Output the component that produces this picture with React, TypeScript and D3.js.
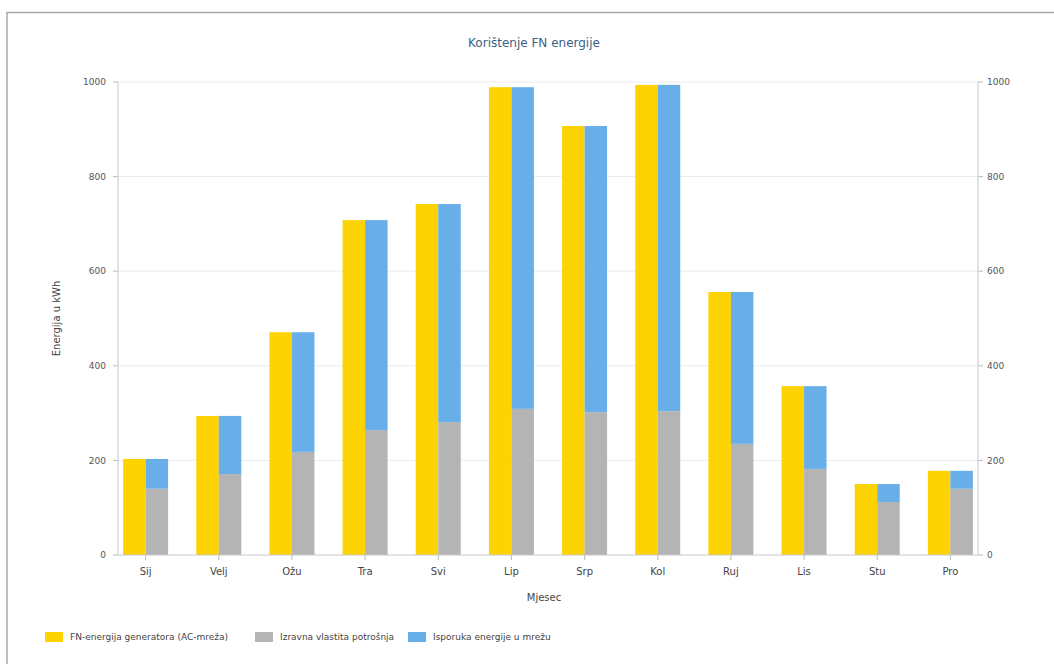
import React from "react";
import * as d3 from "d3";

const months = ["Sij", "Velj", "Ožu", "Tra", "Svi", "Lip", "Srp", "Kol", "Ruj", "Lis", "Stu", "Pro"];
// FN-energija generatora (AC-mreža), kWh
const generated = [203, 294, 471, 708, 742, 989, 907, 994, 556, 357, 150, 178];
// Izravna vlastita potrošnja, kWh
const selfUse = [140, 171, 218, 264, 281, 309, 302, 304, 235, 182, 112, 140];
// Isporuka energije u mrežu, kWh
const feedIn = [63, 123, 253, 444, 461, 680, 605, 690, 321, 175, 38, 38];
const yTicks = [0, 200, 400, 600, 800, 1000];

const legendItems = [
  { label: "FN-energija generatora (AC-mreža)", color: "#fdd304" },
  { label: "Izravna vlastita potrošnja", color: "#b4b4b4" },
  { label: "Isporuka energije u mrežu", color: "#68afe9" },
];

const W = 1054;
const H = 664;
const margin = { top: 82, right: 76, bottom: 109, left: 118 };

export default function App() {
  const innerW = W - margin.left - margin.right;
  const innerH = H - margin.top - margin.bottom;

  const x = d3.scaleBand<string>().domain(months).range([0, innerW]).paddingInner(0.385).paddingOuter(0.07);
  const sub = d3.scaleBand<string>().domain(["gen", "stack"]).range([0, x.bandwidth()]);
  const y = d3.scaleLinear().domain([0, 1000]).range([innerH, 0]);

  const font = "Tahoma, 'DejaVu Sans', Verdana, sans-serif";

  return (
    <svg width={W} height={H} style={{ position: "absolute", left: 0, top: 0, background: "#fff" }} fontFamily={font}>
      <rect x={7} y={12.5} width={W} height={H} fill="none" stroke="#a8a8a8" strokeWidth={1.5} />
      <text x={534} y={47} textAnchor="middle" fontSize={12} fill="#3d5f86">
        Korištenje FN energije
      </text>
      <g transform={`translate(${margin.left},${margin.top})`}>
        {yTicks.map(t => (
          <g key={t}>
            {t > 0 && <line x1={0} x2={innerW} y1={y(t)} y2={y(t)} stroke="#ececec" />}
            <line x1={-5} x2={0} y1={y(t)} y2={y(t)} stroke="#bbb" />
            <line x1={innerW} x2={innerW + 5} y1={y(t)} y2={y(t)} stroke="#bbb" />
            <text x={-12} y={y(t)} dy="0.35em" textAnchor="end" fontSize={9} fill="#555">
              {t}
            </text>
            <text x={innerW + 9} y={y(t)} dy="0.35em" textAnchor="start" fontSize={9} fill="#555">
              {t}
            </text>
          </g>
        ))}
        {months.map((m, i) => {
          const x0 = x(m)!;
          return (
            <g key={m}>
              <rect x={x0 + sub("gen")!} y={y(generated[i])} width={sub.bandwidth()} height={innerH - y(generated[i])} fill="#fdd304" />
              <rect x={x0 + sub("stack")!} y={y(selfUse[i])} width={sub.bandwidth()} height={innerH - y(selfUse[i])} fill="#b4b4b4" />
              <rect
                x={x0 + sub("stack")!}
                y={y(selfUse[i] + feedIn[i])}
                width={sub.bandwidth()}
                height={y(selfUse[i]) - y(selfUse[i] + feedIn[i])}
                fill="#68afe9"
              />
              <line x1={x0 + x.bandwidth() / 2} x2={x0 + x.bandwidth() / 2} y1={innerH} y2={innerH + 5} stroke="#bbb" />
              <text x={x0 + x.bandwidth() / 2} y={innerH + 20} textAnchor="middle" fontSize={10} fill="#444">
                {m}
              </text>
            </g>
          );
        })}
        <line x1={0} x2={0} y1={0} y2={innerH} stroke="#c8c8c8" />
        <line x1={innerW} x2={innerW} y1={0} y2={innerH} stroke="#c8c8c8" />
        <line x1={0} x2={innerW} y1={innerH} y2={innerH} stroke="#c8c8c8" />
        <text
          transform={`translate(${-58},${innerH / 2}) rotate(-90)`}
          textAnchor="middle"
          fontSize={10}
          fill="#444"
        >
          Energija u kWh
        </text>
        <text x={innerW / 2 - 4} y={innerH + 46} textAnchor="middle" fontSize={10} fill="#444">
          Mjesec
        </text>
      </g>
      <g transform="translate(45,637)">
        {legendItems.map((it, i) => {
          const offs = [0, 210, 363];
          return (
            <g key={it.label} transform={`translate(${offs[i]},0)`}>
              <rect x={0} y={-5} width={18} height={10} fill={it.color} />
              <text x={25} y={0} dy="0.35em" fontSize={9} fill="#444">
                {it.label}
              </text>
            </g>
          );
        })}
      </g>
    </svg>
  );
}
